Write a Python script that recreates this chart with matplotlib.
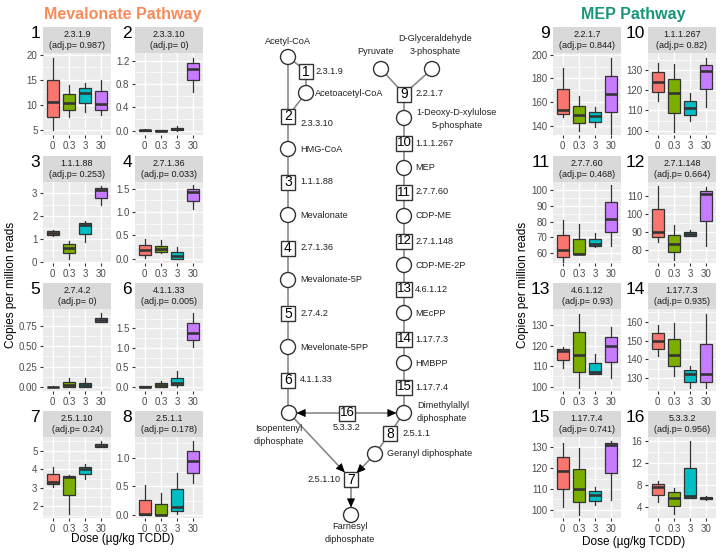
import matplotlib
matplotlib.use('Agg')
import matplotlib.pyplot as plt
from matplotlib.patches import Circle, Rectangle
import numpy as np

plt.rcParams['font.family'] = ['Liberation Sans', 'DejaVu Sans']

W, H = 724, 558
fig = plt.figure(figsize=(7.24, 5.58), dpi=100)

# ---------------- data ----------------
doses = ['0', '0.3', '3', '30']
dose_colors = ['#F8766D', '#7CAE00', '#00BFC4', '#C77CFF']

panel_numbers = list(range(1, 17))
enzymes = ['2.3.1.9', '2.3.3.10', '1.1.1.88', '2.7.1.36', '2.7.4.2', '4.1.1.33', '2.5.1.10', '2.5.1.1',
           '2.2.1.7', '1.1.1.267', '2.7.7.60', '2.7.1.148', '4.6.1.12', '1.17.7.3', '1.17.7.4', '5.3.3.2']
adj_p = ['0.987', '0', '0.253', '0.033', '0', '0.005', '0.24', '0.178',
         '0.844', '0.82', '0.468', '0.664', '0.93', '0.935', '0.741', '0.956']

# per dose: [whisker low, q1, median, q3, whisker high]
box_1 = [[4.9, 7.6, 10.6, 15.0, 19.3], [7.6, 8.9, 10.25, 12.1, 13.9], [8.6, 10.4, 12.4, 13.4, 14.3], [7.9, 9.0, 10.1, 12.7, 15.0]]
box_2 = [[0.0, 0.0, 0.005, 0.012, 0.02], [0.0, 0.0, 0.0, 0.005, 0.008], [0.0, 0.005, 0.02, 0.045, 0.085], [0.67, 0.87, 1.06, 1.16, 1.25]]
box_3 = [[1.13, 1.18, 1.27, 1.34, 1.4], [0.14, 0.39, 0.62, 0.77, 0.9], [0.87, 1.23, 1.63, 1.72, 1.8], [2.5, 2.81, 3.17, 3.25, 3.32]]
box_4 = [[0.02, 0.09, 0.18, 0.3, 0.43], [0.13, 0.14, 0.21, 0.28, 0.4], [0.0, 0.0, 0.06, 0.14, 0.26], [1.07, 1.24, 1.43, 1.5, 1.57]]
box_5 = [[0.0, 0.0, 0.0, 0.004, 0.006], [0.0, 0.0, 0.03, 0.062, 0.115], [0.0, 0.0, 0.03, 0.054, 0.115], [0.8, 0.8, 0.824, 0.853, 0.91]]
box_6 = [[0.0, 0.0, 0.0, 0.008, 0.012], [0.0, 0.0, 0.04, 0.085, 0.15], [0.0, 0.04, 0.085, 0.23, 0.41], [1.03, 1.2, 1.37, 1.63, 1.9]]
box_7 = [[3.06, 3.2, 3.3, 3.73, 4.14], [1.58, 2.6, 3.6, 3.64, 3.68], [3.46, 3.73, 4.0, 4.14, 4.27], [5.18, 5.2, 5.25, 5.36, 5.52]]
box_8 = [[0.0, 0.0, 0.02, 0.27, 0.53], [0.0, 0.0, 0.005, 0.19, 0.38], [0.02, 0.08, 0.15, 0.45, 0.74], [0.56, 0.74, 0.95, 1.12, 1.29]]
box_9 = [[147.3, 150.0, 153.5, 171.0, 188.7], [135.8, 142.3, 149.3, 157.0, 164.8], [138.6, 143.1, 147.9, 151.5, 155.5], [133.0, 151.3, 167.0, 182.3, 197.2]]
box_10 = [[114.7, 118.9, 123.9, 128.7, 133.3], [99.4, 108.8, 118.4, 125.5, 132.8], [104.9, 107.7, 111.0, 114.8, 118.4], [111.8, 120.4, 129.2, 132.2, 135.8]]
box_11 = [[54.8, 58.0, 61.9, 71.5, 80.9], [59.5, 59.6, 59.8, 68.9, 78.7], [63.9, 64.6, 65.6, 69.3, 72.8], [64.6, 73.3, 81.7, 92.4, 103.0]]
box_12 = [[84.3, 87.0, 90.0, 102.9, 115.6], [74.4, 78.7, 83.3, 88.1, 93.7], [87.5, 87.9, 88.9, 90.0, 91.3], [82.2, 96.2, 110.9, 112.8, 114.7]]
box_13 = [[109.1, 113.2, 117.5, 118.4, 119.2], [99.2, 107.4, 115.3, 126.9, 135.4], [106.2, 106.2, 107.1, 111.5, 116.1], [104.1, 111.9, 119.8, 124.4, 129.2]]
box_14 = [[141.5, 145.5, 149.6, 154.2, 158.4], [131.1, 136.6, 142.2, 151.0, 159.3], [124.5, 128.1, 132.3, 134.4, 136.2], [124.5, 128.1, 132.0, 147.9, 164.1]]
box_15 = [[101.5, 109.8, 118.4, 125.2, 132.1], [97.6, 103.7, 109.8, 119.7, 129.7], [102.4, 104.3, 107.2, 108.8, 110.9], [104.8, 117.9, 131.0, 132.1, 132.9]]
box_16 = [[4.97, 6.2, 7.7, 8.2, 8.8], [2.7, 4.2, 5.6, 6.66, 7.5], [5.7, 5.7, 6.0, 11.1, 16.0], [5.3, 5.5, 5.6, 5.8, 6.0]]
all_boxes = [box_1, box_2, box_3, box_4, box_5, box_6, box_7, box_8,
             box_9, box_10, box_11, box_12, box_13, box_14, box_15, box_16]

y_ticks = [[5, 10, 15, 20], [0.0, 0.4, 0.8, 1.2], [0, 1, 2, 3], [0.0, 0.5, 1.0, 1.5],
           [0.0, 0.25, 0.5, 0.75], [0.0, 0.5, 1.0, 1.5], [2, 3, 4, 5], [0.0, 0.5, 1.0],
           [140, 160, 180, 200], [100, 110, 120, 130], [60, 70, 80, 90, 100], [80, 90, 100, 110],
           [100, 110, 120, 130], [130, 140, 150, 160], [100, 110, 120, 130], [4, 8, 12, 16]]
y_ticklabels = [['5', '10', '15', '20'], ['0.0', '0.4', '0.8', '1.2'], ['0', '1', '2', '3'], ['0.0', '0.5', '1.0', '1.5'],
                ['0.00', '0.25', '0.50', '0.75'], ['0.0', '0.5', '1.0', '1.5'], ['2', '3', '4', '5'], ['0.0', '0.5', '1.0'],
                ['140', '160', '180', '200'], ['100', '110', '120', '130'], ['60', '70', '80', '90', '100'], ['80', '90', '100', '110'],
                ['100', '110', '120', '130'], ['130', '140', '150', '160'], ['100', '110', '120', '130'], ['4', '8', '12', '16']]
y_limits = [(3.9, 20.3), (-0.075, 1.33), (-0.05, 3.5), (-0.09, 1.64), (-0.05, 0.96), (-0.11, 2.0), (1.38, 5.73), (-0.05, 1.36),
            (132, 201.5), (97.9, 138.2), (53.9, 105), (72.7, 117.7), (97.9, 137.9), (123.1, 166.8), (96, 135), (2.0, 16.8)]

# ---------------- layout helpers ----------------
def px_axes(x0, y0, x1, y1, **kw):
    return fig.add_axes([x0 / W, 1 - y1 / H, (x1 - x0) / W, (y1 - y0) / H], **kw)

col_x = [(43, 111), (135, 203), (553, 621), (648, 716)]
row_y = [(53, 135), (182, 263), (309, 391), (437, 518)]
strip_h = 26

TXT = '#4D4D4D'
for i in range(16):
    block = 0 if i < 8 else 1
    j = i % 8
    col = block * 2 + j % 2
    row = j // 2
    x0, x1 = col_x[col]
    y0, y1 = row_y[row]
    ax = px_axes(x0, y0, x1, y1)
    ax.set_facecolor('#EBEBEB')
    for s in ax.spines.values():
        s.set_visible(False)
    stats = []
    for d in range(4):
        lo, q1, med, q3, hi = all_boxes[i][d]
        stats.append(dict(whislo=lo, q1=q1, med=med, q3=q3, whishi=hi, label=doses[d]))
    bp = ax.bxp(stats, positions=[1, 2, 3, 4], widths=0.75, patch_artist=True,
                showcaps=False, showfliers=False,
                boxprops=dict(edgecolor='#333333', linewidth=0.9),
                medianprops=dict(color='#333333', linewidth=1.9, solid_capstyle='butt'),
                whiskerprops=dict(color='#333333', linewidth=0.9), zorder=3)
    for patch, c in zip(bp['boxes'], dose_colors):
        patch.set_facecolor(c)
    ax.set_xlim(0.4, 4.6)
    ax.set_ylim(*y_limits[i])
    ax.set_xticks([1, 2, 3, 4])
    ax.set_xticklabels(doses)
    ax.set_yticks(y_ticks[i])
    ax.set_yticklabels(y_ticklabels[i])
    t = y_ticks[i]
    step = t[1] - t[0]
    lo_, hi_ = y_limits[i]
    minors = [t[0] - step / 2 + k * step for k in range(-2, len(t) + 2)]
    minors = [m for m in minors if lo_ < m < hi_]
    for m in minors:
        ax.axhline(m, color='white', lw=0.5, zorder=0.5)
    ax.grid(True, color='white', lw=1.0, zorder=0.6)
    ax.set_axisbelow(True)
    ax.tick_params(axis='both', length=2.5, width=0.8, color='#333333', labelsize=7,
                   labelcolor=TXT, pad=1.5)
    # strip
    sax = px_axes(x0, y0 - strip_h, x1, y0)
    sax.set_facecolor('#D9D9D9')
    sax.set_xticks([]); sax.set_yticks([])
    for s in sax.spines.values():
        s.set_visible(False)
    sax.text(0.5, 0.5, f'{enzymes[i]}\n(adj.p= {adj_p[i]})', ha='center', va='center',
             fontsize=6.5, color='#1A1A1A', transform=sax.transAxes, linespacing=1.15)
    fig.text((x0 - 3) / W, 1 - (y0 - strip_h - 1) / H, str(panel_numbers[i]), ha='right', va='top',
             fontsize=12.5, color='black')

# titles and axis labels
fig.text(123 / W, 1 - 14 / H, 'Mevalonate Pathway', ha='center', va='center', fontsize=11.5,
         fontweight='bold', color='#F98A5A')
fig.text(633 / W, 1 - 14 / H, 'MEP Pathway', ha='center', va='center', fontsize=11.5,
         fontweight='bold', color='#17967A')
fig.text(11 / W, 1 - 285 / H, 'Copies per million reads', rotation=90, ha='center', va='center', fontsize=8.5, color='black')
fig.text(523 / W, 1 - 285 / H, 'Copies per million reads', rotation=90, ha='center', va='center', fontsize=8.5, color='black')
fig.text(123 / W, 1 - 539 / H, 'Dose (µg/kg TCDD)', ha='center', va='center', fontsize=8.5, color='black')
fig.text(634 / W, 1 - 542 / H, 'Dose (µg/kg TCDD)', ha='center', va='center', fontsize=8.5, color='black')

# ---------------- pathway diagram ----------------
dax = fig.add_axes([240 / W, 0, 240 / W, 1])
dax.set_xlim(240, 480)
dax.set_ylim(558, 0)
dax.axis('off')

LINE = '#8A8A8A'
R = 7.5
BW, BH = 14, 15

def seg(p, q):
    dax.plot([p[0], q[0]], [p[1], q[1]], color=LINE, lw=1.2, zorder=1, solid_capstyle='butt')

def arrow(p, q, shrink):
    p = np.array(p, float); q = np.array(q, float)
    v = q - p; v /= np.linalg.norm(v)
    end = q - v * shrink
    seg(p, end - v * 3)
    dax.annotate('', xy=end, xytext=end - v * 5,
                 arrowprops=dict(arrowstyle='-|>,head_length=0.55,head_width=0.25', color='black',
                                 lw=0.6, shrinkA=0, shrinkB=0), zorder=2)

def circ(x, y):
    dax.add_patch(Circle((x, y), R, facecolor='white', edgecolor='#333333', lw=1.0, zorder=3))

def box(x, y, label):
    w = BW if len(label) == 1 else BW + 2
    dax.add_patch(Rectangle((x - w / 2, y - BH / 2), w, BH, facecolor='white', edgecolor='#333333', lw=1.0, zorder=3))
    dax.text(x, y + 0.5, label, ha='center', va='center', fontsize=10 if len(label) == 1 else 9.5, zorder=4)

def lab(x, y, s, ha='left', fs=6.6):
    dax.text(x, y, s, ha=ha, va='center', fontsize=fs, color='#222222', linespacing=1.45, zorder=4)

# mevalonate branch
mx = 288
seg((mx, 57), (mx, 413))
seg((mx, 57), (306, 71)); seg((306, 71), (306, 93)); seg((306, 93), (mx, 116))
mev_circles = [(mx, 57), (306, 93), (mx, 149), (mx, 215), (mx, 280), (mx, 347), (mx + 1, 413)]
mev_boxes = [(306, 71, '1'), (mx, 116, '2'), (mx, 182, '3'), (mx, 248, '4'), (mx, 313, '5'), (mx, 380, '6')]

# MEP branch
ex = 404
seg((381, 69), (ex, 94)); seg((432, 69), (ex, 94))
seg((ex, 94), (ex, 413))
mep_circles = [(381, 69), (432, 69), (ex, 118), (ex, 168), (ex, 216), (ex, 265), (ex, 313), (ex, 363), (ex, 413)]
mep_boxes = [(ex, 94, '9'), (ex, 143, '10'), (ex, 192, '11'), (ex, 241, '12'), (ex, 289, '13'), (ex, 339, '14'), (ex, 387, '15')]

# lower part
arrow((347, 413), (289, 413), R)
arrow((347, 413), (ex, 413), R)
seg((ex, 413), (390, 433)); seg((390, 433), (375, 454))
arrow((375, 454), (351, 479), 8)
arrow((289, 413), (351, 479), 9)
arrow((351, 479), (351, 515), R)
low_circles = [(375, 454), (351, 515)]
low_boxes = [(347, 413, '16'), (390, 433, '8'), (351, 479, '7')]

for c in mev_circles + mep_circles + low_circles:
    circ(*c)
for b in mev_boxes + mep_boxes + low_boxes:
    box(*b)

lab(288, 41, 'Acetyl-CoA', ha='center')
lab(315, 71, '2.3.1.9')
lab(315, 93, 'Acetoacetyl-CoA')
lab(300, 124, '2.3.3.10')
lab(300, 149, 'HMG-CoA')
lab(300, 182, '1.1.1.88')
lab(300, 215, 'Mevalonate')
lab(300, 248, '2.7.1.36')
lab(300, 280, 'Mevalonate-5P')
lab(300, 313, '2.7.4.2')
lab(300, 347, 'Mevelonate-5PP')
lab(300, 380, '4.1.1.33')
lab(279, 435, 'Isopentenyl\ndiphosphate', ha='center')
lab(347, 428, '5.3.3.2', ha='center')
lab(417, 412, 'Dimethylallyl\ndiphosphate')
lab(402, 433, '2.5.1.1')
lab(387, 454, 'Geranyl diphosphate')
lab(341, 479, '2.5.1.10', ha='right')
lab(350, 533, 'Farnesyl\ndiphosphate', ha='center')
lab(376, 52, 'Pyruvate', ha='center')
lab(435, 45, 'D-Glyceraldehyde\n3-phosphate', ha='center')
lab(415, 94, '2.2.1.7')
dax.text(457, 119, '1-Deoxy-D-xylulose\n5-phosphate', ha='center', va='center', fontsize=6.6,
         color='#222222', linespacing=1.45, multialignment='center', zorder=4)
lab(415, 143, '1.1.1.267')
lab(415, 168, 'MEP')
lab(415, 192, '2.7.7.60')
lab(415, 216, 'CDP-ME')
lab(415, 241, '2.7.1.148')
lab(415, 265, 'CDP-ME-2P')
lab(415, 289, '4.6.1.12')
lab(415, 313, 'MEcPP')
lab(415, 339, '1.17.7.3')
lab(415, 363, 'HMBPP')
lab(415, 387, '1.17.7.4')

fig.savefig('out.png', dpi=100)
